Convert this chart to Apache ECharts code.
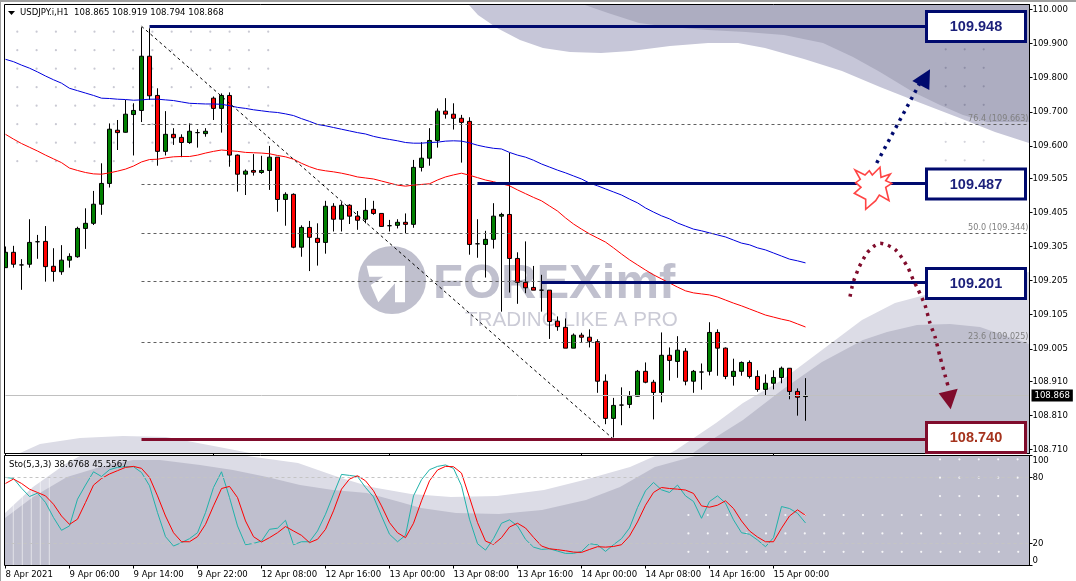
<!DOCTYPE html>
<html>
<head>
<meta charset="utf-8">
<title>USDJPY.i,H1</title>
<style>
  html, body { margin: 0; padding: 0; background: #fff; }
  #chart { width: 1076px; height: 581px; }
</style>
<script src="https://cdn.jsdelivr.net/npm/echarts@6/dist/echarts.min.js"></script>
</head>
<body>
<div id="chart"></div>
<script>
// candles, oldest first
var opens = [
  109.243,109.288,109.251,109.253,109.319,109.320,109.247,109.231,109.265,109.275,
  109.358,109.373,109.429,109.490,109.646,109.640,109.692,109.704,109.863,109.748,
  109.584,109.634,109.625,109.610,109.639,109.636,109.740,109.710,109.748,109.573,
  109.517,109.528,109.522,109.528,109.567,109.443,109.458,109.303,109.361,109.329,
  109.317,109.423,109.385,109.426,109.394,109.385,109.414,109.402,109.366,109.367,
  109.376,109.370,109.537,109.564,109.616,109.702,109.693,109.681,109.672,109.313,
  109.311,109.326,109.394,109.399,109.270,109.200,109.185,109.177,109.177,109.086,
  109.068,109.007,109.045,109.039,109.026,108.910,108.801,108.840,108.842,108.866,
  108.939,108.907,108.877,108.986,108.968,108.998,108.910,108.937,108.939,109.053,
  109.007,108.924,108.939,108.965,108.924,108.886,108.904,108.921,108.948,108.880,
  108.865
];
var closes = [
  109.288,109.253,109.251,109.317,109.319,109.246,109.232,109.265,109.276,109.358,
  109.373,109.429,109.490,109.649,109.639,109.693,109.704,109.863,109.747,109.584,
  109.634,109.624,109.610,109.643,109.639,109.643,109.710,109.748,109.573,109.517,
  109.526,109.523,109.528,109.567,109.443,109.458,109.303,109.361,109.332,109.317,
  109.423,109.385,109.426,109.394,109.382,109.411,109.402,109.364,109.366,109.376,
  109.370,109.537,109.564,109.616,109.702,109.693,109.681,109.669,109.311,109.313,
  109.326,109.394,109.399,109.270,109.200,109.184,109.177,109.177,109.085,109.070,
  109.007,109.045,109.039,109.027,108.910,108.801,108.839,108.840,108.866,108.939,
  108.907,108.877,108.986,108.971,109.001,108.910,108.939,108.937,109.053,109.007,
  108.924,108.939,108.965,108.924,108.886,108.904,108.921,108.948,108.880,108.863,
  108.868
];
var lows = [
  109.243,109.243,109.178,109.243,109.269,109.202,109.202,109.222,109.243,109.272,
  109.298,109.368,109.398,109.478,109.588,109.639,109.572,109.670,109.735,109.542,
  109.572,109.603,109.567,109.606,109.595,109.627,109.676,109.639,109.539,109.466,
  109.456,109.513,109.518,109.471,109.407,109.366,109.300,109.275,109.233,109.249,
  109.284,109.349,109.349,109.371,109.354,109.373,109.398,109.363,109.349,109.358,
  109.344,109.360,109.525,109.542,109.595,109.680,109.648,109.551,109.281,109.272,
  109.214,109.299,109.114,109.170,109.137,109.168,109.177,109.114,109.034,109.058,
  109.007,109.007,109.025,109.009,108.876,108.784,108.745,108.781,108.831,108.865,
  108.904,108.798,108.848,108.912,108.920,108.898,108.876,108.885,108.927,108.926,
  108.916,108.897,108.926,108.918,108.879,108.868,108.886,108.904,108.857,108.809,
  108.794
];
var highs = [
  109.305,109.307,109.268,109.385,109.339,109.365,109.300,109.309,109.285,109.363,
  109.417,109.468,109.549,109.666,109.676,109.735,109.725,109.948,109.945,109.769,
  109.702,109.652,109.634,109.666,109.649,109.652,109.745,109.754,109.757,109.575,
  109.531,109.576,109.571,109.600,109.567,109.464,109.461,109.367,109.380,109.373,
  109.439,109.432,109.435,109.429,109.409,109.447,109.439,109.402,109.383,109.385,
  109.402,109.559,109.611,109.652,109.710,109.740,109.725,109.691,109.684,109.385,
  109.351,109.432,109.404,109.580,109.288,109.320,109.248,109.222,109.177,109.100,
  109.094,109.050,109.052,109.062,109.033,108.930,108.861,108.892,108.881,108.943,
  108.965,108.914,109.053,109.009,109.042,109.007,108.943,108.962,109.083,109.062,
  109.009,108.976,108.968,108.971,108.942,108.930,108.942,108.953,108.948,108.889,
  108.919
];
// moving averages
var maBlue = [
  109.854,109.847,109.837,109.828,109.817,109.805,109.794,109.784,109.769,109.762,
  109.755,109.748,109.740,109.739,109.737,109.736,109.734,109.735,109.737,109.737,
  109.735,109.733,109.729,109.725,109.724,109.723,109.723,109.722,109.718,109.713,
  109.710,109.706,109.703,109.700,109.698,109.694,109.689,109.680,109.672,109.663,
  109.659,109.654,109.649,109.644,109.639,109.635,109.628,109.623,109.619,109.615,
  109.610,109.608,109.608,109.610,109.611,109.614,109.615,109.614,109.609,109.602,
  109.597,109.593,109.591,109.581,109.573,109.567,109.558,109.547,109.538,109.529,
  109.521,109.512,109.503,109.491,109.483,109.474,109.465,109.456,109.444,109.433,
  109.418,109.406,109.395,109.386,109.374,109.365,109.356,109.351,109.345,109.339,
  109.333,109.324,109.315,109.310,109.301,109.295,109.286,109.277,109.268,109.263,
  109.257
];
var maRed = [
  109.634,109.620,109.607,109.596,109.585,109.573,109.562,109.551,109.535,109.528,
  109.522,109.518,109.517,109.521,109.526,109.532,109.541,109.553,109.560,109.561,
  109.565,109.568,109.569,109.569,109.573,109.579,109.584,109.588,109.586,109.584,
  109.581,109.580,109.579,109.577,109.572,109.568,109.561,109.549,109.539,109.531,
  109.527,109.524,109.520,109.515,109.509,109.506,109.503,109.497,109.491,109.485,
  109.482,109.485,109.487,109.489,109.500,109.509,109.515,109.520,109.514,109.507,
  109.500,109.495,109.489,109.483,109.471,109.460,109.449,109.439,109.424,109.409,
  109.389,109.371,109.356,109.342,109.330,109.318,109.301,109.283,109.266,109.251,
  109.236,109.222,109.210,109.198,109.186,109.175,109.169,109.166,109.163,109.157,
  109.148,109.139,109.131,109.122,109.113,109.104,109.098,109.092,109.087,109.078,
  109.069
];
// stochastic 5,3,3
var stoMain = [
  80.1,79.1,70.3,62.7,65.8,57.3,43.6,32.0,36.0,60.3,
  73.1,85.2,80.9,87.1,89.2,89.8,89.8,84.6,72.5,48.1,
  26.2,17.7,20.8,24.4,29.8,48.1,70.9,85.2,61.8,36.0,
  18.9,20.1,22.2,32.9,33.9,41.1,18.9,21.6,21.6,31.4,
  46.6,64.9,82.8,81.9,80.9,70.9,62.4,45.0,28.4,21.6,
  27.4,63.3,78.0,87.1,90.1,91.4,88.3,72.5,42.1,19.8,
  14.0,24.4,38.4,41.5,36.0,23.8,16.7,14.6,15.2,13.1,
  11.0,11.0,12.8,19.8,18.9,12.8,18.9,24.4,34.1,52.7,
  67.9,75.5,68.8,66.4,73.1,63.3,58.2,42.9,58.2,63.3,
  56.7,41.5,29.8,28.4,23.2,17.1,25.3,53.6,51.8,47.5,
  38.68
];
var stoSignal = [
  74.6,78.6,74.6,69.4,66.4,63.3,55.7,45.0,37.4,42.1,
  57.3,73.1,79.1,83.2,86.2,89.2,90.1,88.3,80.1,63.3,
  45.0,29.8,21.6,21.6,26.2,37.4,54.2,70.0,71.9,61.8,
  40.5,26.2,21.4,25.3,29.8,35.4,31.4,27.4,20.8,23.8,
  32.9,49.7,69.4,78.6,81.6,77.0,67.9,54.2,39.0,29.8,
  25.3,38.4,58.8,77.0,86.8,90.1,89.8,84.0,61.8,39.0,
  22.2,19.2,25.3,35.0,38.4,34.1,25.6,17.7,15.2,14.4,
  13.4,12.2,11.9,14.6,17.1,16.7,17.3,18.9,26.8,39.6,
  54.8,66.4,70.9,70.0,69.4,68.6,65.5,54.2,53.0,54.8,
  58.8,51.8,40.5,31.4,25.9,21.6,21.6,33.9,45.0,50.6,
  45.56
];
// axis labels
var timeLabels = ['8 Apr 2021','9 Apr 06:00','9 Apr 14:00','9 Apr 22:00','12 Apr 08:00','12 Apr 16:00','13 Apr 00:00',
  '13 Apr 08:00','13 Apr 16:00','14 Apr 00:00','14 Apr 08:00','14 Apr 16:00','15 Apr 00:00'];
var priceTicks = [110,109.9,109.8,109.7,109.6,109.505,109.405,109.305,109.205,109.105,109.005,108.91,108.81,108.71];
var stoTicks = [100,80,20,0];
// drawn levels
var fibLevels = [109.663,109.487,109.344,109.204,109.025];
var fibNames = ['76.4 (109.663)','','50.0 (109.344)','','23.6 (109.025)'];
var blueLevels = [109.951,109.490,109.200];
var blueLevelStart = [18,59,67];
var redLevel = 108.740;
var lastPrice = 108.868;

var BAR_COUNT = 129;
var categories = [];
for (var n = 0; n < BAR_COUNT; n++) {
  categories.push(n % 8 === 0 && n / 8 < timeLabels.length ? timeLabels[n / 8] : '');
}

var axisFont = 'DejaVu Sans Condensed, Liberation Sans, sans-serif';
var NAVY = '#000a6e', MAROON = '#800c2c';

// ---- background art and annotations, plain pixel layout ----
var gfx = [];
function poly(points, fill, z, opts) {
  gfx.push(Object.assign({ type: 'polygon', silent: true, z: z, shape: { points: points }, style: { fill: fill } }, opts || {}));
}
function dots(xs, ys, fill) {
  xs.forEach(function (x) {
    ys.forEach(function (y) {
      gfx.push({ type: 'circle', silent: true, z: 0, shape: { cx: x, cy: y, r: 1.1 }, style: { fill: fill } });
    });
  });
}
function steps(start, gap, count) {
  var out = [];
  for (var k = 0; k < count; k++) out.push(start + gap * k);
  return out;
}
function label(x, y, text, font, fill, align) {
  gfx.push({ type: 'text', silent: true, z: 60, x: x, y: y,
    style: { text: text, font: font, fill: fill, align: align || 'left', verticalAlign: 'middle' } });
}

// upper right waves
poly([[469,5],[478,15],[497,28],[520,40],[543,48],[570,52],[601,53],[631,51],[670,46],[708,43],[738,43],[765,48],[804,59],[842,71],[880,87],[918,102],[957,117],[995,132],[1029,143],[1029,5]], '#c6c6d8', 0);
poly([[585,5],[608,13],[639,23],[670,27],[708,30],[746,32],[784,35],[823,43],[853,57],[880,72],[913,92],[940,105],[963,115],[987,122],[1029,122],[1029,5]], '#adadc1', 0);
// lower main pane waves
poly([[20,453],[40,444],[80,438],[123,436],[166,437],[219,447],[250,453]], '#dcdce6', 0);
poly([[670,453],[676,450],[716,423],[743,403],[782,380],[822,350],[862,320],[895,303],[925,295],[975,282],[1029,272],[1029,453]], '#dcdce6', 0);
poly([[693,453],[716,437],[743,420],[782,390],[822,362],[863,340],[887,332],[917,325],[950,324],[980,327],[1029,344],[1029,453]], '#bfbfce', 0);
// stochastic pane waves
poly([[5,513],[33,487],[67,463],[80,456],[247,456],[298,463],[338,477],[371,487],[411,494],[451,497],[497,496],[544,490],[584,480],[630,467],[655,456],[1029,456],[1029,565],[5,565]], '#dcdce6', 0);
poly([[5,518],[33,497],[67,477],[100,467],[133,460],[160,460],[200,465],[233,470],[267,477],[300,485],[333,490],[367,493],[400,502],[421,508],[456,513],[499,514],[542,510],[586,500],[620,487],[655,467],[695,456],[1029,456],[1029,565],[5,565]], '#bfbfce', 0);

// dot grids
dots(steps(17.3,19.3,14), steps(31.7,18.5,8), '#c9c9d3');
dots(steps(945.7,19,3), steps(49.3,18.5,4), '#8e8ea6');
dots(steps(945.7,19,3), steps(123.3,18.5,3), '#d4d4dc');
dots(steps(940,19.4,5), steps(459.3,18.4,3), 'rgba(255,255,255,0.85)');
dots(steps(688.4,19.4,18), steps(515,18.4,3), 'rgba(255,255,255,0.85)');
// pale stripes at the left of the stochastic pane
steps(13.3,9,5).forEach(function (x) {
  gfx.push({ type: 'line', silent: true, z: 0, shape: { x1: x, y1: 477, x2: x, y2: 565 }, style: { stroke: 'rgba(255,255,255,0.55)', lineWidth: 1 } });
});

// FOREXimf watermark
gfx.push({ type: 'circle', silent: true, z: 0, shape: { cx: 392, cy: 280, r: 34 }, style: { fill: '#c0c0ce' } });
poly([[366.7,265.7],[405,265.7],[405,302.3],[395,302.3],[395,283.3],[378.3,302.3],[370.7,285],[383.3,276.7],[369.3,276.7]], '#fff', 0);
gfx.push({ type: 'text', silent: true, z: 0, x: 433, y: 284, style: { text: 'FOREXimf', font: 'bold 49px Liberation Sans', fill: '#c0c0ce', verticalAlign: 'middle' } });
gfx.push({ type: 'text', silent: true, z: 0, x: 465, y: 320, style: { text: 'TRADING LIKE A PRO', font: '20.6px Liberation Sans', fill: '#cbcbd6', verticalAlign: 'middle' } });

// white strip and window edge, panes frames
gfx.push({ type: 'rect', silent: true, z: 40, shape: { x: 1, y: 2, width: 3, height: 570 }, style: { fill: '#fff' } });
gfx.push({ type: 'rect', silent: true, z: 41, shape: { x: 0, y: 0, width: 1076, height: 2 }, style: { fill: '#a0a0a0' } });
gfx.push({ type: 'rect', silent: true, z: 41, shape: { x: 0, y: 0, width: 1, height: 581 }, style: { fill: '#a0a0a0' } });
gfx.push({ type: 'rect', silent: true, z: 42, shape: { x: 4.5, y: 4.5, width: 1025, height: 449 }, style: { fill: 'none', stroke: '#000', lineWidth: 1 } });
gfx.push({ type: 'rect', silent: true, z: 42, shape: { x: 4.5, y: 455.5, width: 1025, height: 110 }, style: { fill: 'none', stroke: '#000', lineWidth: 1 } });

// value boxes
[[925,10,'109.948',NAVY,'#1b1f7a'],[925,167.5,'109.487',NAVY,'#1b1f7a'],[925,267,'109.201',NAVY,'#1b1f7a'],[925,421,'108.740',MAROON,'#a5331d']].forEach(function (b) {
  gfx.push({ type: 'rect', silent: true, z: 50, shape: { x: b[0] + 1.5, y: b[1] + 1.5, width: 99, height: 30 }, style: { fill: '#fff', stroke: b[3], lineWidth: 3 } });
  label(b[0] + 51, b[1] + 17, b[2], 'bold 14.5px Liberation Sans', b[4], 'center');
});

// up arrow with burst
gfx.push({ type: 'line', silent: true, z: 45, shape: { x1: 876.7, y1: 163, x2: 921, y2: 81 }, style: { stroke: NAVY, lineWidth: 3.5, lineDash: [3, 5] } });
poly([[930,69.3],[912.3,81],[929.3,90]], NAVY, 45);
poly([[855,170],[865,175],[869.3,170.7],[872.3,175],[880,167.3],[881,177.3],[890.3,174],[885.7,180.7],[891.7,183.3],[885.7,187.3],[889,200.7],[879.3,195],[875.7,200.7],[865.7,209.3],[865.7,199.3],[854.3,193.3],[861,187.3],[855.7,182.7],[860.3,179.3]],
  '#fff', 46, { style: { fill: '#fff', stroke: '#ff4444', lineWidth: 1.6 } });

// down arrow over the arc
gfx.push({ type: 'polyline', silent: true, z: 45,
  shape: { points: [[850,296.7],[851.7,288.3],[854,280],[859.3,266.7],[866.7,253.3],[873.3,246.7],[880,243.3],[887.3,245],[895,249.3],[900,255],[908.3,268.3],[913.3,280],[918.3,290],[925,305],[930,323.3],[935,336.7],[940,356.7],[945,375],[948,386]], smooth: 0.2 },
  style: { stroke: MAROON, lineWidth: 3.5, lineDash: [3, 5], fill: 'none' } });
poly([[938.7,393.3],[957.7,388.7],[950.7,409.3]], MAROON, 45);

// header texts
poly([[8,11],[15,11],[11.5,15]], '#000', 60);
label(20, 12.5, 'USDJPY.i,H1  108.865 108.919 108.794 108.868', '9.5px ' + axisFont, '#000');
label(9, 465, 'Sto(5,3,3) 38.6768 45.5567', '9.5px ' + axisFont, '#000');

// ---- helpers for library drawn levels ----
function hLine(price, from, to, color, width, dash, text) {
  return {
    lineStyle: { color: color, width: width, type: dash },
    label: text ? { show: true, formatter: text, position: 'insideEndTop', distance: 1, color: '#808080', fontFamily: axisFont, fontSize: 9 } : { show: false },
    coords: [[from, price], [to, price]]
  };
}
function toMarkData(list) {
  return list.map(function (l) {
    return [
      { coord: l.coords[0], lineStyle: l.lineStyle, label: l.label },
      { coord: l.coords[1] }
    ];
  });
}

var backLines = fibLevels.map(function (p, i) {
  return hLine(p, 17, 128, '#606060', 1, [3, 3], fibNames[i]);
});
backLines.push({
  lineStyle: { color: '#000', width: 1, type: [3, 3] },
  label: { show: false },
  coords: [[17, blueLevels[0]], [76, redLevel]]
});

var topLines = blueLevels.map(function (p, i) {
  return hLine(p, blueLevelStart[i], 115, NAVY, 3, 'solid');
});
topLines.push(hLine(redLevel, 17, 115, MAROON, 3, 'solid'));

var tickEvery8 = function (index, value) { return value !== ''; };
var mainXTicks = [0, 26, 48, 72, 96];

var option = {
  animation: false,
  backgroundColor: '#fff',
  graphic: gfx,
  grid: [
    { left: 5.5, top: 4.5, width: 1024, height: 449 },
    { left: 5.5, top: 455.5, width: 1024, height: 110 }
  ],
  xAxis: [
    {
      type: 'category', gridIndex: 0, data: categories, boundaryGap: false,
      axisLine: { show: false },
      axisTick: { length: 2, lineStyle: { color: '#000' }, interval: function (index) { return mainXTicks.indexOf(index) >= 0; } },
      axisLabel: { show: false }
    },
    {
      type: 'category', gridIndex: 1, data: categories, boundaryGap: false,
      axisLine: { show: false },
      axisTick: { length: 3, lineStyle: { color: '#000' }, interval: tickEvery8 },
      axisLabel: { interval: tickEvery8, align: 'left', margin: 4, color: '#000', fontFamily: axisFont, fontSize: 9.5 }
    }
  ],
  yAxis: [
    {
      type: 'value', gridIndex: 0, position: 'right', min: 108.698, max: 110.0147,
      splitLine: { show: false },
      axisLine: { show: true, lineStyle: { color: '#000' } },
      axisTick: { show: true, length: 3, lineStyle: { color: '#000' }, customValues: priceTicks },
      axisLabel: { margin: 3, color: '#000', fontFamily: axisFont, fontSize: 9.5, customValues: priceTicks,
        formatter: function (v) { return v.toFixed(3); } }
    },
    {
      type: 'value', gridIndex: 1, position: 'right', min: 0, max: 100,
      splitLine: { show: false },
      axisLine: { show: true, lineStyle: { color: '#000' } },
      axisTick: { show: true, length: 3, lineStyle: { color: '#000' }, customValues: stoTicks },
      axisLabel: { margin: 3, color: '#000', fontFamily: axisFont, fontSize: 9.5, customValues: stoTicks,
        verticalAlignMinLabel: 'top', verticalAlignMaxLabel: 'bottom' }
    }
  ],
  series: [
    {
      name: 'levels back', type: 'line', xAxisIndex: 0, yAxisIndex: 0, z: 1, data: [],
      markLine: {
        silent: true, symbol: 'none', animation: false,
        data: toMarkData(backLines).concat([[
          { coord: [0, lastPrice], lineStyle: { color: '#c0c0c0', width: 1, type: 'solid' },
            label: { show: true, position: 'end', distance: 2, formatter: lastPrice.toFixed(3), color: '#fff', backgroundColor: '#000', padding: [1, 3], fontFamily: axisFont, fontSize: 9.5 } },
          { coord: [128, lastPrice] }
        ]])
      }
    },
    {
      name: 'USDJPY.i', type: 'candlestick', xAxisIndex: 0, yAxisIndex: 0, z: 3, clip: false,
      barWidth: 5,
      data: opens.map(function (o, i) { return [o, closes[i], lows[i], highs[i]]; }),
      itemStyle: { color: '#008000', color0: '#ff0000', borderColor: '#000', borderColor0: '#000', borderColorDoji: '#000', borderWidth: 1 }
    },
    {
      name: 'MA blue', type: 'line', xAxisIndex: 0, yAxisIndex: 0, z: 4, data: maBlue,
      symbol: 'none', lineStyle: { color: '#0000dd', width: 1 }
    },
    {
      name: 'MA red', type: 'line', xAxisIndex: 0, yAxisIndex: 0, z: 4, data: maRed,
      symbol: 'none', lineStyle: { color: '#ff0000', width: 1 }
    },
    {
      name: 'levels top', type: 'line', xAxisIndex: 0, yAxisIndex: 0, z: 6, data: [],
      markLine: { silent: true, symbol: 'none', animation: false, data: toMarkData(topLines) }
    },
    {
      name: 'Sto main', type: 'line', xAxisIndex: 1, yAxisIndex: 1, z: 3, data: stoMain,
      symbol: 'none', lineStyle: { color: '#20b2aa', width: 1 },
      markLine: {
        silent: true, symbol: 'none', animation: false, label: { show: false },
        lineStyle: { color: '#c4c4c4', width: 1, type: [3, 3] },
        data: [[{ coord: [0, 80] }, { coord: [128, 80] }], [{ coord: [0, 20] }, { coord: [128, 20] }]]
      }
    },
    {
      name: 'Sto signal', type: 'line', xAxisIndex: 1, yAxisIndex: 1, z: 4, data: stoSignal,
      symbol: 'none', lineStyle: { color: '#ff0000', width: 1 }
    }
  ]
};

var chart = echarts.init(document.getElementById('chart'), null, { renderer: 'canvas' });
chart.setOption(option);
</script>
</body>
</html>
